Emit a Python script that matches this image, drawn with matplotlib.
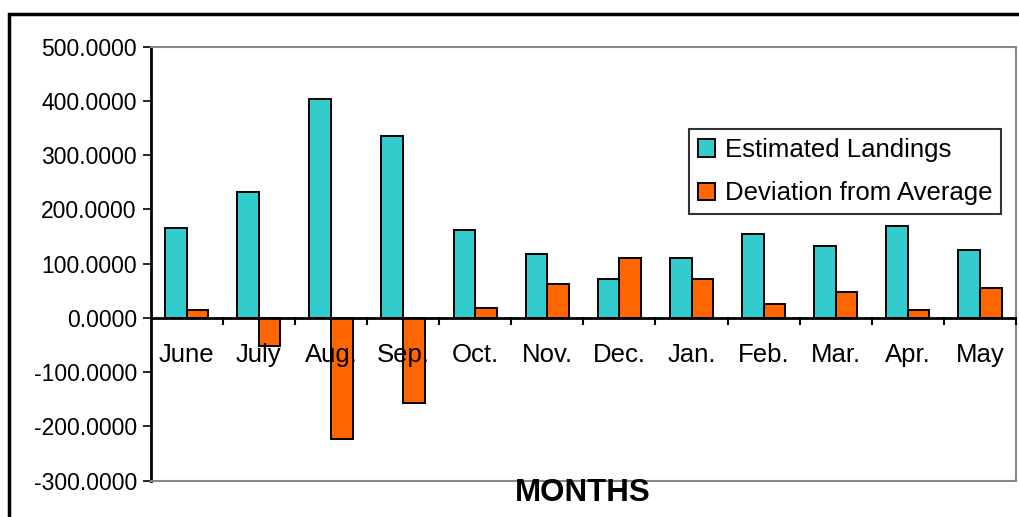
import matplotlib
matplotlib.use("Agg")
import matplotlib.pyplot as plt
import numpy as np
from matplotlib.patches import Rectangle

months = ["June", "July", "Aug.", "Sep.", "Oct.", "Nov.", "Dec.", "Jan.", "Feb.", "Mar.", "Apr.", "May"]
estimated = [166, 232, 403, 336, 162, 118, 71, 110, 155, 133, 170, 125]
deviation = [14, -52, -223, -156, 18, 63, 110, 71, 25, 48, 15, 55]
yticks = [-300, -200, -100, 0, 100, 200, 300, 400, 500]

plt.rcParams['font.family'] = ['Liberation Sans', 'DejaVu Sans']

W, H = 1019, 517
fig = plt.figure(figsize=(W/100, H/100), dpi=100)
ax = fig.add_axes([150.7/W, 1 - 480.7/H, (1016-150.7)/W, (480.7-46.7)/H])

x = np.arange(len(months))
bw = 0.3
ax.bar(x - bw/2, estimated, bw, color="#33CCCC", edgecolor="black", linewidth=1.4,
       label="Estimated Landings", zorder=3)
ax.bar(x + bw/2, deviation, bw, color="#FF6600", edgecolor="black", linewidth=1.4,
       label="Deviation from Average", zorder=3)

ax.set_xlim(-0.5, len(months) - 0.5)
ax.set_ylim(-300, 500)
ax.set_yticks(yticks)
ax.set_yticklabels([f"{v:.4f}" for v in yticks], fontsize=16.5)
ax.tick_params(axis='y', length=6, width=1.2, pad=4)

# x axis at zero
ax.axhline(0, color="black", linewidth=2, zorder=4)
ax.set_xticks([])
for b in np.arange(0.5, len(months) - 0.5 + 0.01, 1.0):
    ax.plot([b, b], [0, -12], color="black", linewidth=1.5, clip_on=False, zorder=4)
for xi, m in zip(x, months):
    ax.text(xi, -68, m, ha="center", va="center", fontsize=18.5, zorder=6)

for s in ["top", "right", "bottom"]:
    ax.spines[s].set_color("#888888")
    ax.spines[s].set_linewidth(1.5)
ax.spines["left"].set_color("black")
ax.spines["left"].set_linewidth(2)

fig.text(583/W, 1 - 493/H, "MONTHS", ha="center", va="center", fontsize=22.5, fontweight="bold")

leg = ax.legend(loc="upper left", bbox_to_anchor=((689-150.7)/(1016-150.7), 1 - (129-46.7)/(480.7-46.7)),
                fontsize=18.5, frameon=True, fancybox=False, edgecolor="black",
                handlelength=0.65, handleheight=0.65, handletextpad=0.4, borderpad=0.35,
                labelspacing=0.75, borderaxespad=0)
leg.get_frame().set_linewidth(1.5)
for p in leg.get_patches():
    p.set_linewidth(1.4)

fig.patches.append(Rectangle((9/W, -0.1), 1.2, 1 - 14/H + 0.1, transform=fig.transFigure,
                             fill=False, edgecolor="black", linewidth=2.5))

fig.savefig("out.png", dpi=100)
